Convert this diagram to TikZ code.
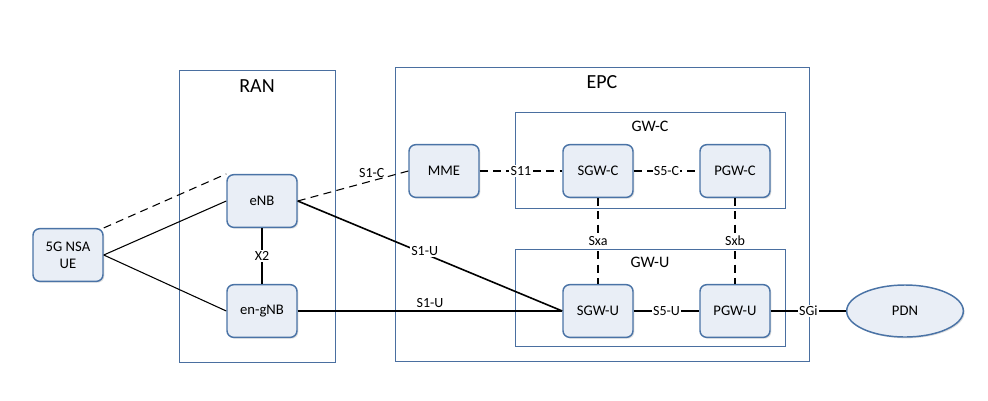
\documentclass[tikz,border=0pt]{standalone}
\usepackage{fontspec}
\setmainfont{Carlito}
\usetikzlibrary{shapes.geometric,shadows}
\definecolor{nodefill}{HTML}{E9EEF6}
\definecolor{nodeborder}{HTML}{4A73A6}
\definecolor{frameblue}{HTML}{4A6FA0}
\begin{document}
\begin{tikzpicture}[x=0.75pt,y=-0.75pt,
  nf/.style={draw=nodeborder, line width=1.1pt, fill=nodefill, rounded corners=5pt,
    minimum width=52.5pt, minimum height=39.5pt, align=center, inner sep=1pt,
    font=\fontsize{11}{13}\selectfont,
    drop shadow={opacity=0.25, shadow xshift=1pt, shadow yshift=-1pt}},
  frame/.style={draw=frameblue, line width=0.75pt},
  title/.style={font=\fontsize{15}{17}\selectfont},
  subtitle/.style={font=\fontsize{12}{14}\selectfont},
  lbl/.style={fill=white, inner sep=1pt, font=\fontsize{10.5}{12}\selectfont},
  lblnf/.style={inner sep=1pt, font=\fontsize{10.5}{12}\selectfont},
  ln/.style={draw=black, line width=0.8pt},
  thick ln/.style={draw=black, line width=1.2pt},
  dsh/.style={draw=black, line width=0.8pt, dash pattern=on 6pt off 4pt}]
\useasboundingbox (0,0) rectangle (988,400);
% frames
\draw[frame] (179,70) rectangle (335,362);
\node[title] (ran) at (257,86) {RAN};
\draw[frame] (395,67) rectangle (809,361);
\node[title] (epc) at (602,82) {EPC};
\draw[frame] (515,112) rectangle (785,208);
\node[subtitle] (gwc) at (650,126) {GW-C};
\draw[frame] (515,249) rectangle (785,346);
\node[subtitle] (gwu) at (650,262) {GW-U};
% nodes
\node[nf] (ue) at (68,255) {5G NSA\\UE};
\node[nf] (enb) at (262,201) {eNB};
\node[nf] (gnb) at (262,311) {en-gNB};
\node[nf] (mme) at (444,171) {MME};
\node[nf] (sgwc) at (598,171) {SGW-C};
\node[nf] (pgwc) at (735,171) {PGW-C};
\node[nf] (sgwu) at (598,311) {SGW-U};
\node[nf] (pgwu) at (735,311) {PGW-U};
\node[ellipse, draw=nodeborder, line width=1.1pt, fill=nodefill, minimum width=87.5pt,
  minimum height=39pt, inner sep=0pt, font=\fontsize{11}{13}\selectfont,
  drop shadow={opacity=0.25, shadow xshift=1pt, shadow yshift=-1pt}] (pdn) at (905,311) {PDN};
% connectors
\draw[dsh] (ue.north east) -- (enb.north west);
\draw[ln] (ue.east) -- (enb.west);
\draw[ln] (ue.east) -- (gnb.west);
\draw[ln] (enb.south) -- node[lbl] {X2} (gnb.north);
\draw[dsh] (enb.east) -- node[lblnf, pos=0.67, yshift=6pt] {S1-C} (mme.west);
\draw[thick ln] (enb.east) -- node[lbl, pos=0.48, yshift=2pt] {S1-U} (sgwu.west);
\draw[thick ln] (gnb.east) -- node[lblnf, above=1pt] {S1-U} (sgwu.west);
\draw[dsh] (mme.east) -- node[lbl] {S11} (sgwc.west);
\draw[dsh] (sgwc.east) -- node[lbl] {S5-C} (pgwc.west);
\draw[dsh] (sgwc.south) -- node[lbl] {Sxa} (sgwu.north);
\draw[dsh] (pgwc.south) -- node[lbl] {Sxb} (pgwu.north);
\draw[ln] (sgwu.east) -- node[lbl] {S5-U} (pgwu.west);
\draw[ln] (pgwu.east) -- node[lbl] {SGi} (pdn.west);
\end{tikzpicture}
\end{document}
